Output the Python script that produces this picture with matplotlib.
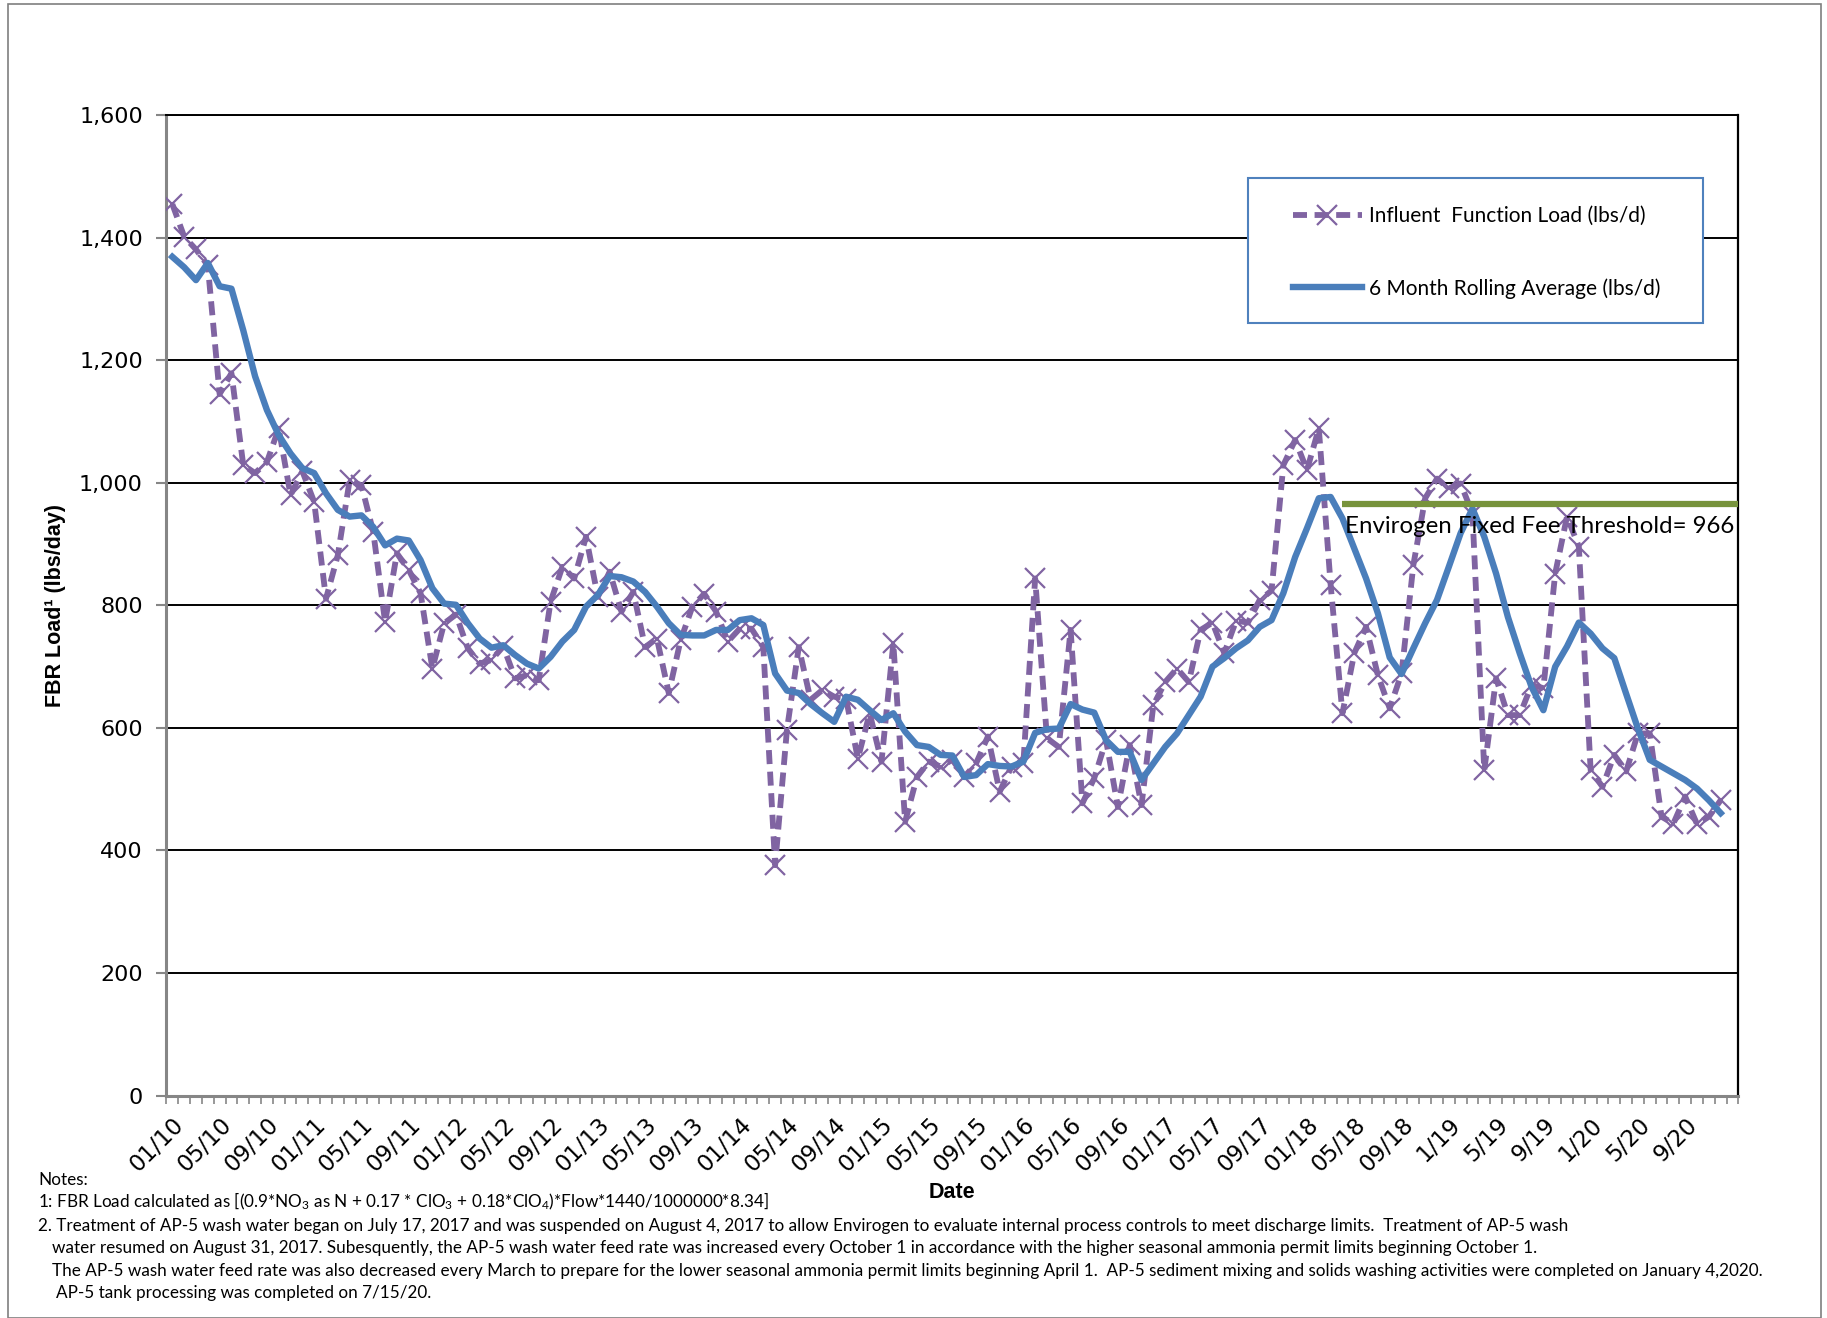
import numpy as np
import matplotlib.pyplot as plt
from matplotlib.patches import Rectangle
from matplotlib.ticker import FuncFormatter
from matplotlib.transforms import ScaledTranslation

plt.rcParams['mathtext.default'] = 'regular'

# monthly values, 01/10 .. 12/20
influent = [1455, 1402, 1381, 1355, 1145, 1179, 1029, 1016, 1034, 1089, 980, 1019,
            969, 811, 882, 1004, 996, 920, 773, 885, 858, 820, 697, 771,
            785, 730, 705, 711, 733, 681, 686, 678, 806, 863, 844, 912,
            814, 855, 790, 822, 732, 746, 657, 743, 798, 819, 790, 741,
            762, 762, 732, 376, 597, 732, 646, 662, 651, 648, 550, 624,
            545, 738, 447, 520, 545, 537, 548, 520, 542, 586, 496, 537,
            542, 844, 583, 569, 760, 477, 518, 580, 471, 572, 474, 637,
            675, 697, 675, 760, 772, 722, 775, 772, 809, 824, 1029, 1070,
            1021, 1089, 834, 624, 722, 765, 686, 632, 689, 866, 975, 1007,
            991, 999, 950, 531, 681, 621, 621, 670, 665, 852, 945, 896,
            531, 504, 556, 529, 591, 591, 455, 444, 488, 443, 455, 482]

rolling = [1369, 1352, 1331, 1359, 1321, 1317, 1249, 1174, 1119, 1078, 1048, 1024,
           1016, 983, 956, 945, 947, 928, 898, 909, 906, 874, 828, 803,
           801, 771, 746, 731, 735, 719, 705, 697, 716, 741, 760, 798,
           817, 848, 846, 839, 822, 798, 771, 752, 751, 751, 760, 760,
           776, 779, 768, 689, 661, 657, 639, 624, 610, 651, 646, 629,
           613, 624, 594, 572, 569, 556, 555, 520, 523, 541, 538, 537,
           545, 592, 598, 599, 639, 630, 625, 580, 561, 561, 515, 542,
           569, 591, 621, 651, 700, 714, 730, 743, 765, 776, 820, 879,
           926, 975, 977, 942, 893, 844, 787, 715, 688, 730, 771, 809,
           863, 918, 958, 912, 852, 781, 722, 667, 629, 700, 733, 772,
           754, 730, 714, 656, 599, 548, 537, 526, 515, 501, 482, 461]

tick_labels = ['01/10', '05/10', '09/10', '01/11', '05/11', '09/11', '01/12', '05/12',
               '09/12', '01/13', '05/13', '09/13', '01/14', '05/14', '09/14', '01/15',
               '05/15', '09/15', '01/16', '05/16', '09/16', '01/17', '05/17', '09/17',
               '01/18', '05/18', '09/18', '1/19', '5/19', '9/19', '1/20', '5/20', '9/20']

n_categories = 133
threshold = 966
threshold_start = 99

purple = '#8064A2'
blue = '#4A7EBB'
green = '#77933C'
gray = '#868686'

fig = plt.figure(figsize=(18.27, 13.18), dpi=100)
ax = fig.add_axes([0.0911, 0.1688, 0.8604, 0.7437])

x = np.arange(len(influent))
l1, = ax.plot(x, influent, color=purple, lw=4.2, dashes=(2.4, 1.3),
              marker='x', ms=14, mew=1.6, zorder=3)
l2, = ax.plot(x, rolling, color=blue, lw=4.6, zorder=4, solid_joinstyle='round')

ax.hlines(threshold, threshold_start, n_categories - 0.5, color=green, lw=4.5, zorder=5)
ax.text(threshold_start + 0.2, threshold - 37, 'Envirogen Fixed Fee Threshold= %d' % threshold,
        fontsize=17.3, family='Lato', va='center', ha='left', zorder=6)

ax.set_xlim(-0.5, n_categories - 0.5)
ax.set_ylim(0, 1600)
ax.set_yticks(range(0, 1601, 200))
ax.yaxis.set_major_formatter(FuncFormatter(lambda v, p: '{:,.0f}'.format(v)))
ax.yaxis.grid(True, color='black', lw=1.4)
ax.set_axisbelow(True)

ax.set_xticks(x[::4])
ax.set_xticklabels(tick_labels, rotation=45, ha='right', rotation_mode='anchor', fontsize=16.5)
shift = ScaledTranslation(6 / 100, 0, fig.dpi_scale_trans)
for lab in ax.get_xticklabels():
    lab.set_transform(lab.get_transform() + shift)
ax.set_xticks(np.arange(-0.5, n_categories, 1), minor=True)
ax.tick_params(axis='x', which='major', length=0, pad=13)
ax.tick_params(axis='x', which='minor', length=6, color=gray, width=1.2, direction='out')
ax.tick_params(axis='y', length=7, color=gray, width=1.5, direction='out', labelsize=16, pad=10)

for s in ['left', 'bottom']:
    ax.spines[s].set_color(gray)
    ax.spines[s].set_linewidth(2.2)
ax.spines['top'].set_linewidth(1.4)
ax.spines['right'].set_linewidth(1.6)

fig.text(56 / 1827, 1 - 606 / 1318, 'FBR Load¹ (lbs/day)', rotation=90, fontsize=15.5,
         fontweight='bold', family='Liberation Sans', ha='center', va='center')
fig.text(952 / 1827, 1 - 1192 / 1318, 'Date', fontsize=15.5, fontweight='bold',
         family='Liberation Sans', ha='center', va='center')

# legend box
fig.patches.append(Rectangle((1248 / 1827, 1 - 323 / 1318), 455 / 1827, 145 / 1318,
                             transform=fig.transFigure, facecolor='white',
                             edgecolor='#4F81BD', lw=1.5, zorder=2))
fig.legend([l1, l2], ['Influent  Function Load (lbs/d)', '6 Month Rolling Average (lbs/d)'],
           loc='upper left', bbox_to_anchor=(1293 / 1827, 1 - 206 / 1318),
           frameon=False, borderpad=0, borderaxespad=0, handlelength=3.3,
           handletextpad=0.35, labelspacing=2.5, prop={'family': 'Lato', 'size': 15})

notes = [
    (38, 1180, 'Notes:'),
    (38, 1201, '1: FBR Load calculated as [(0.9*NO$_3$ as N + 0.17 * ClO$_3$ + 0.18*ClO$_4$)*Flow*1440/1000000*8.34]'),
    (38, 1226, '2. Treatment of AP-5 wash water began on July 17, 2017 and was suspended on August 4, 2017 to allow Envirogen to evaluate internal process controls to meet discharge limits.  Treatment of AP-5 wash'),
    (52, 1248, 'water resumed on August 31, 2017. Subesquently, the AP-5 wash water feed rate was increased every October 1 in accordance with the higher seasonal ammonia permit limits beginning October 1.'),
    (52, 1271, 'The AP-5 wash water feed rate was also decreased every March to prepare for the lower seasonal ammonia permit limits beginning April 1.  AP-5 sediment mixing and solids washing activities were completed on January 4,2020.'),
    (56, 1293, 'AP-5 tank processing was completed on 7/15/20.'),
]
for nx, ny, t in notes:
    fig.text(nx / 1827, 1 - ny / 1318, t, fontsize=12.3, family='Lato', ha='left', va='center')

fig.patches.append(Rectangle((0.0045, 0.0), 0.992, 0.997, transform=fig.transFigure,
                             fill=False, edgecolor='#7f7f7f', lw=1.2, zorder=0))

fig.savefig('out.png', dpi=100)
